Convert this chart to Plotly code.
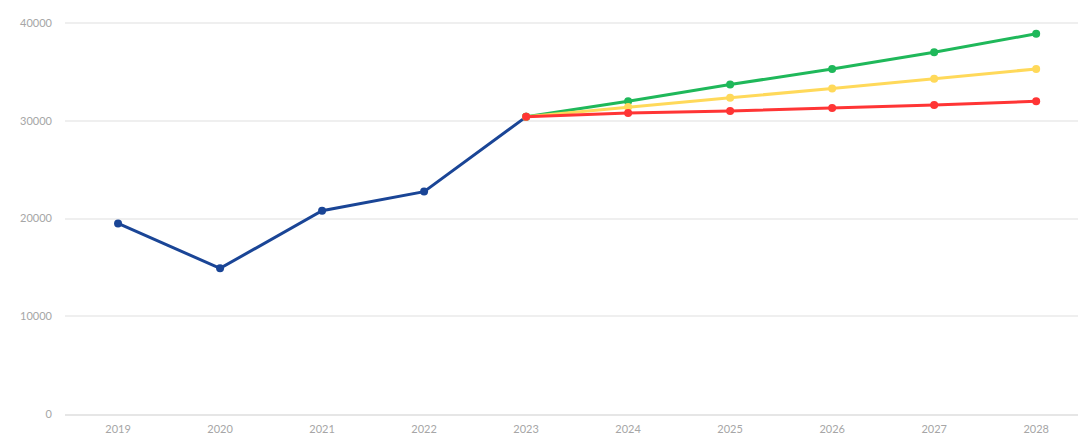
import plotly.graph_objects as go

years = ["2019", "2020", "2021", "2022", "2023", "2024", "2025", "2026", "2027", "2028"]
hist_years = years[:5]
proj_years = years[4:]

historic = [19500, 14900, 20800, 22750, 30400]
optimistic = [30400, 32000, 33700, 35300, 37000, 38900]
moderate = [30400, 31400, 32350, 33300, 34300, 35300]
pessimistic = [30400, 30800, 31000, 31300, 31600, 32000]

y_ticks = [0, 10000, 20000, 30000, 40000]
y_labels = ["0", "10000", "20000", "30000", "40000"]

fig = go.Figure()


def add_line(x, y, color):
    fig.add_trace(go.Scatter(
        x=x, y=y,
        mode="lines+markers",
        line=dict(color=color, width=3),
        marker=dict(color=color, size=8),
        showlegend=False,
    ))


add_line(hist_years, historic, "#1a4596")
add_line(proj_years, optimistic, "#1fb85a")
add_line(proj_years, moderate, "#ffd95a")
add_line(proj_years, pessimistic, "#ff3535")

fig.update_layout(
    width=1078,
    height=436,
    plot_bgcolor="white",
    paper_bgcolor="white",
    margin=dict(l=65, r=0, t=3, b=22),
    font=dict(family="Lato", size=11, color="#a6a6a6"),
    xaxis=dict(
        type="category",
        categoryorder="array",
        categoryarray=years,
        range=[-0.52, 9.41],
        showgrid=False,
        zeroline=False,
        showline=True,
        linecolor="#e6e6e6",
        linewidth=2,
        ticks="",
        ticklabelstandoff=4,
    ),
    yaxis=dict(
        range=[0, 42046],
        tickvals=y_ticks,
        ticktext=y_labels,
        showgrid=True,
        gridcolor="#efefef",
        gridwidth=2,
        zeroline=False,
        showline=False,
        ticks="",
        ticklabelstandoff=12,
    ),
)

# page has a default 8px body margin; drop it so the chart fills the window
fig.write_html(
    "out.html",
    config={"displayModeBar": False},
    post_script="document.body.style.margin='0';",
)
